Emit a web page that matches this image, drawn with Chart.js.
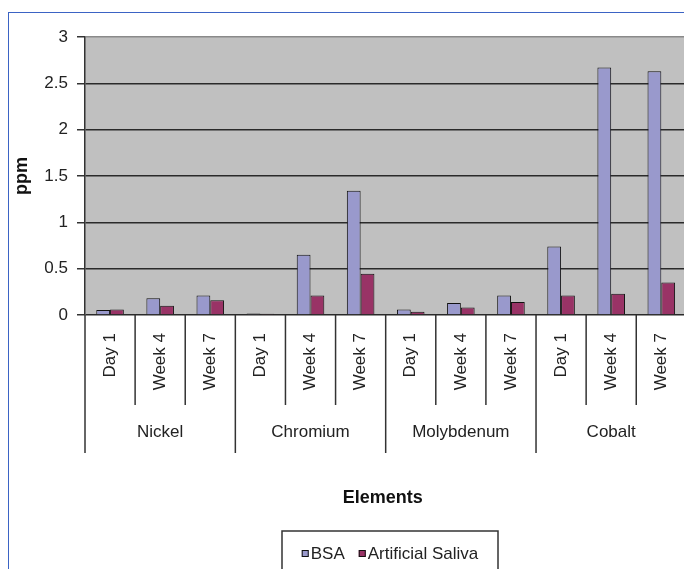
<!DOCTYPE html>
<html>
<head>
<meta charset="utf-8">
<script src="https://cdn.jsdelivr.net/npm/chart.js@4/dist/chart.umd.min.js"></script>
<style>
  html, body { margin: 0; padding: 0; background: #fff; overflow: hidden; width: 684px; height: 569px; }
  #frame { position: absolute; left: 8px; top: 12px; width: 800px; height: 700px; border: 1px solid #3b63c4; box-sizing: border-box; }
  #wrap { position: absolute; left: 0; top: 0; width: 700px; height: 569px; }
</style>
</head>
<body>
<div id="frame"></div>
<div id="wrap"><canvas id="c" width="700" height="569"></canvas></div>
<script>
// Element groups and sampling periods along the category axis
const groups = ['Nickel', 'Chromium', 'Molybdenum', 'Cobalt'];
const periods = ['Day 1', 'Week 4', 'Week 7'];
const categoryLabels = groups.flatMap(() => periods);

// Released ion concentration (ppm), one value per group/period
const bsaValues    = [0.055, 0.18, 0.21, 0.016, 0.65, 1.34, 0.06, 0.13, 0.21, 0.74, 2.67, 2.63];
const salivaValues = [0.06, 0.10, 0.16, 0.014, 0.21, 0.445, 0.035, 0.08, 0.14, 0.21, 0.23, 0.35];

const seriesNames = ['BSA', 'Artificial Saliva'];
const seriesColors = ['#9999cc', '#993366'];
const yTickValues = [0, 0.5, 1, 1.5, 2, 2.5, 3];

const FONT = '"Liberation Sans", Arial, sans-serif';
const TEXT = '#222';

// Grey plot area
const plotBackground = {
  id: 'plotBackground',
  beforeDraw(chart) {
    const { ctx, chartArea: a } = chart;
    ctx.save();
    ctx.fillStyle = '#c0c0c0';
    ctx.fillRect(a.left, a.top, a.right - a.left, a.bottom - a.top);
    ctx.restore();
  }
};

// Two-level category axis: period dividers, group dividers and group names,
// plus the axis title and the boxed legend underneath
const categoryAxisDecor = {
  id: 'categoryAxisDecor',
  afterDraw(chart) {
    const { ctx, chartArea: a } = chart;
    const xs = chart.scales.x;
    const n = chart.data.labels.length;
    const step = (xs.right - xs.left) / n;
    ctx.save();
    ctx.strokeStyle = '#333';
    ctx.lineWidth = 1.5;
    for (let i = 0; i <= n; i++) {
      const px = xs.left + i * step;
      const isGroupEdge = i % periods.length === 0;
      ctx.beginPath();
      ctx.moveTo(px, a.bottom);
      ctx.lineTo(px, a.bottom + (isGroupEdge ? 138 : 90));
      ctx.stroke();
    }

    ctx.fillStyle = TEXT;
    ctx.font = '17px ' + FONT;
    ctx.textAlign = 'center';
    ctx.textBaseline = 'middle';
    groups.forEach((g, gi) => {
      const cx = xs.left + (gi * periods.length + periods.length / 2) * step;
      ctx.fillText(g, cx, a.bottom + 117);
    });

    ctx.fillStyle = '#111';
    ctx.font = 'bold 18px ' + FONT;
    ctx.fillText('Elements', (a.left + a.right) / 2 - 3, 498);

    // legend
    const boxLeft = 282, boxTop = 531, boxWidth = 216;
    ctx.strokeStyle = '#333';
    ctx.lineWidth = 1.5;
    ctx.strokeRect(boxLeft, boxTop, boxWidth, 80);
    ctx.font = '17px ' + FONT;
    ctx.textAlign = 'left';
    const sq = 7, gapText = 2, gapItem = 14;
    const widths = seriesNames.map(s => sq + gapText + ctx.measureText(s).width);
    const total = widths.reduce((s, w) => s + w, 0) + gapItem * (widths.length - 1);
    let x = boxLeft + (boxWidth - total) / 2;
    const cy = 554;
    chart.data.datasets.forEach((ds, i) => {
      ctx.fillStyle = ds.backgroundColor;
      ctx.fillRect(x, cy - 4, sq, sq);
      ctx.strokeStyle = '#111';
      ctx.lineWidth = 1;
      ctx.strokeRect(x + 0.5, cy - 3.5, sq - 1, sq - 1);
      ctx.fillStyle = TEXT;
      ctx.fillText(ds.label, x + sq + gapText, cy);
      x += widths[i] + gapItem;
    });
    ctx.restore();
  }
};

new Chart(document.getElementById('c'), {
  type: 'bar',
  data: {
    labels: categoryLabels,
    datasets: [
      { label: seriesNames[0], data: bsaValues, backgroundColor: seriesColors[0], borderColor: '#111', borderWidth: 1 },
      { label: seriesNames[1], data: salivaValues, backgroundColor: seriesColors[1], borderColor: '#111', borderWidth: 1 }
    ]
  },
  options: {
    responsive: false,
    animation: false,
    devicePixelRatio: 1,
    layout: { padding: { top: 37, right: 7, bottom: 0, left: 0 } },
    datasets: { bar: { categoryPercentage: 0.55, barPercentage: 1 } },
    plugins: { legend: { display: false }, tooltip: { enabled: false } },
    scales: {
      x: {
        offset: true,
        grid: { display: false, drawTicks: false },
        border: { display: false },
        ticks: {
          autoSkip: false, minRotation: 90, maxRotation: 90, padding: 18,
          color: TEXT, font: { family: FONT, size: 17 }
        },
        afterFit(scale) { scale.height = 569 - 315; }
      },
      y: {
        min: 0, max: 3,
        afterBuildTicks(scale) { scale.ticks = yTickValues.map(v => ({ value: v })); },
        grid: {
          color: ctx => (ctx.tick && ctx.tick.value === 3) ? '#8a8a8a' : '#2a2a2a',
          lineWidth: 1.5,
          tickLength: 8,
          tickColor: '#333'
        },
        border: { display: true, color: '#333', width: 1.5 },
        ticks: {
          padding: 9, color: TEXT, font: { family: FONT, size: 17 },
          callback: v => String(v)
        },
        title: { display: true, text: 'ppm', color: '#111', font: { family: FONT, size: 18, weight: 'bold' }, padding: { top: 11, bottom: 0 } },
        afterFit(scale) { scale.width = 85; }
      }
    }
  },
  plugins: [plotBackground, categoryAxisDecor]
});
</script>
</body>
</html>
